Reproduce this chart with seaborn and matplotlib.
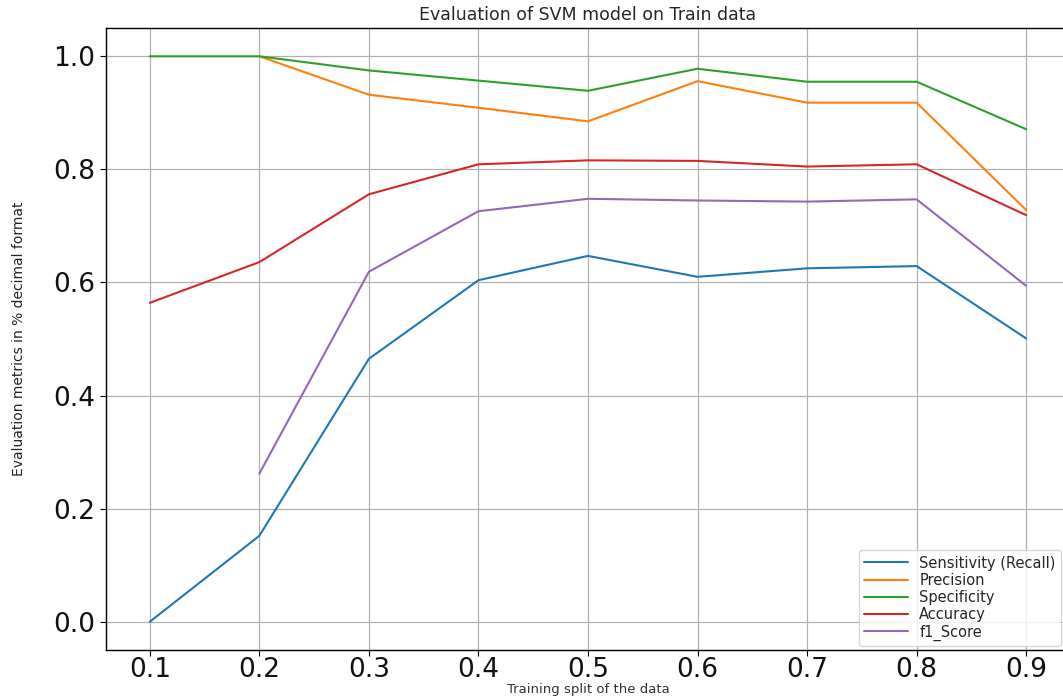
import numpy as np
import pandas as pd
import matplotlib
matplotlib.use("Agg")
import matplotlib.pyplot as plt
import seaborn as sns

splits = [0.1, 0.2, 0.3, 0.4, 0.5, 0.6, 0.7, 0.8, 0.9]
sensitivity = [0.0, 0.152, 0.465, 0.604, 0.647, 0.610, 0.625, 0.629, 0.501]
precision = [np.nan, 1.0, 0.932, 0.909, 0.885, 0.956, 0.918, 0.918, 0.728]
specificity = [1.0, 1.0, 0.975, 0.957, 0.939, 0.978, 0.955, 0.955, 0.871]
accuracy = [0.564, 0.636, 0.756, 0.809, 0.816, 0.815, 0.805, 0.809, 0.719]
f1_score = [np.nan, 0.262, 0.619, 0.726, 0.748, 0.745, 0.743, 0.747, 0.594]
series_names = ["Sensitivity (Recall)", "Precision", "Specificity", "Accuracy", "f1_Score"]

rows = []
for name, vals in zip(series_names, [sensitivity, precision, specificity, accuracy, f1_score]):
    for x, v in zip(splits, vals):
        rows.append({"split": x, "value": v, "metric": name})
df = pd.DataFrame(rows)

sns.set_theme(style="ticks", rc={"axes.grid": True, "grid.color": "#b0b0b0",
                                 "grid.linewidth": 0.9, "axes.edgecolor": "black",
                                 "axes.linewidth": 1.0})
plt.rcParams['font.family'] = ['DejaVu Sans']

fig = plt.figure(figsize=(10.63, 6.97), dpi=100)
ax = fig.add_axes([0.0997, 0.0674, 0.9069, 0.8924])

sns.lineplot(data=df, x="split", y="value", hue="metric", hue_order=series_names,
             palette="tab10", linewidth=1.5, ax=ax)

ax.set_xlim(0.06, 0.94)
ax.set_ylim(-0.05, 1.05)
ax.set_xticks(splits)
ax.set_xticklabels([f"{s:.1f}" for s in splits])
ax.set_yticks([0.0, 0.2, 0.4, 0.6, 0.8, 1.0])
ax.set_yticklabels(["0.0", "0.2", "0.4", "0.6", "0.8", "1.0"])
ax.tick_params(axis="both", labelsize=19, length=4, width=0.8, color="black", labelcolor="#111111")
ax.tick_params(axis="x", pad=1)
ax.set_title("Evaluation of SVM model on Train data", fontsize=12.5, pad=6)
ax.set_xlabel("Training split of the data", fontsize=9.5, labelpad=0, color="#333333")
ax.set_ylabel("Evaluation metrics in % decimal format", fontsize=10, labelpad=20, color="#222222")
for sp in ax.spines.values():
    sp.set_visible(True)
    sp.set_color("black")

leg = ax.legend(loc="lower right", fontsize=10.5, frameon=True, handlelength=3.0,
                labelspacing=0.15, borderpad=0.35, borderaxespad=0.3,
                bbox_to_anchor=(0.995, 0.0))
leg.get_frame().set_edgecolor("#cccccc")

fig.savefig("out.png", dpi=100)
